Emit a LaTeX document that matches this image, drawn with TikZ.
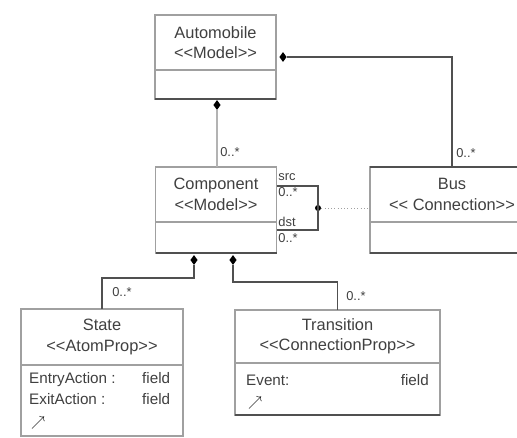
\documentclass[tikz,border=0pt]{standalone}
\usepackage{fontspec}
\setmainfont{Liberation Sans}[Ligatures=TeXOff]
\usetikzlibrary{positioning, shapes.geometric, calc}
\definecolor{colLine}{HTML}{A0A0A0}
\definecolor{colDark}{HTML}{505050}
\definecolor{colText}{HTML}{404040}
\newcommand{\stereo}[1]{<{}<#1>{}>}
\tikzset{
  % Class boxes (name compartment + attribute compartment)
  chead/.style={
    draw=colLine, line width=1.2pt, fill=white, outer sep=0pt,
    align=center, inner sep=0pt, text=colText,
    font=\fontsize{14}{17.5}\selectfont,
  },
  cbody/.style={draw=colLine, line width=1.2pt, fill=white, outer sep=0pt, inner sep=0pt},
  cfoot/.style={draw=colDark, line width=1.6pt},
  attr/.style={font=\fontsize{13}{17.5}\selectfont, text=colText, inner sep=0pt},
  icon/.style={font=\large, text=black, inner sep=0pt},
  % Multiplicities
  mult/.style={font=\fontsize{11}{12}\selectfont, text=colText, inner sep=1pt},
  % Composition ends
  comp/.style={diamond, fill=black, inner sep=0pt, minimum width=2.2mm, minimum height=3mm},
  jdot/.style={circle, fill=black, inner sep=0pt, minimum size=1.8mm},
  % Connectors
  assoc/.style={draw=colDark, line width=0.9pt},
  assocLt/.style={draw=colLine!80, line width=2.2pt},
}

\begin{document}
\begin{tikzpicture}[x=0.3mm, y=-0.3mm]
\useasboundingbox (0,0) rectangle (517,437);

%% top class
\node[chead, minimum width=36.3mm, minimum height=16.5mm] (autoHead) at (215.5,42.5)
  {Automobile\\\stereo{Model}};
\node[cbody, below=0pt of autoHead, minimum width=36.3mm, minimum height=8.7mm] (autoBody) {};
\draw[cfoot] (autoBody.south west) -- (autoBody.south east);

%% middle row
\node[chead, minimum width=36.3mm, minimum height=16.5mm] (compHead) at (216,194.5)
  {Component\\\stereo{Model}};
\node[cbody, below=0pt of compHead, minimum width=36.3mm, minimum height=9.3mm] (compBody) {};
\draw[cfoot] (compBody.south west) -- (compBody.south east);

\node[chead, minimum width=49.2mm, minimum height=16.5mm] (busHead) at (452,194.5)
  {Bus\\\stereo{ Connection}};
\node[cbody, below=0pt of busHead, minimum width=49.2mm, minimum height=9.3mm] (busBody) {};
\draw[cfoot] (busHead.north west) -- (busHead.north east);
\draw[cfoot] (busBody.south west) -- (busBody.south east);

%% bottom row
\node[chead, minimum width=48.6mm, minimum height=16.8mm] (stHead) at (102,337)
  {State\\\stereo{AtomProp}};
\node[cbody, below=0pt of stHead, minimum width=48.6mm, minimum height=21.3mm] (stBody) {};
\node[attr, anchor=north west] (stAttr) at (29,369)
  {\begin{tabular}{@{}l@{\hspace{8mm}}l@{}}EntryAction : & field\\ ExitAction : & field\end{tabular}};
\node[icon, anchor=west] (stIcon) at (31,423) {$\nearrow$};

\node[chead, minimum width=61.5mm, minimum height=15.9mm] (trHead) at (337.5,336.5)
  {Transition\\\stereo{ConnectionProp}};
\node[cbody, below=0pt of trHead, minimum width=61.5mm, minimum height=15.6mm] (trBody) {};
\node[attr, anchor=west] (trEvent) at (246,380) {Event:};
\node[attr, anchor=east] (trField) at (429,380) {field};
\node[icon, anchor=west] (trIcon) at (248,403) {$\nearrow$};
\draw[cfoot] (trBody.south west) -- (trBody.south east);

%% Automobile -- Component
\node[comp] (autoD) at (217,105) {};
\draw[assocLt] (autoD.south) -- (autoD.south |- compHead.north);
\node[mult] (mAuto) at (230,152) {0..*};

%% Automobile -- Bus
\node[comp, shape border rotate=90] (busD) at (283,57) {};
\draw[assoc] (busD.east) -| (busHead.north);
\node[mult] (mBus) at (466,153) {0..*};

%% self association with Bus as association class
\coordinate (loopNE) at (318,186);
\coordinate (loopSE) at (318,230);
\node[jdot] (loopDot) at (318,208) {};
\draw[assoc] (compHead.east |- loopNE) -- (loopNE) -- (loopSE) -- (compBody.east |- loopSE);
\draw[colLine, line width=0.8pt, dotted] (loopDot) -- (loopDot -| busHead.west);
\node[mult, anchor=west] (mSrc) at (277,177) {src};
\node[mult, anchor=west] (mSrcN) at (277,192) {0..*};
\node[mult, anchor=west] (mDst) at (277,222) {dst};
\node[mult, anchor=west] (mDstN) at (277,238) {0..*};

%% Component -- State / Transition
\node[comp] (stD) at (194,260) {};
\node[comp] (trD) at (233,260) {};
\coordinate (stKnee) at (102,278);
\coordinate (trKnee) at (337.5,282);
\draw[assoc] (stD.south) |- (stKnee) -- (stHead.north);
\draw[assoc] (trD.south) |- (trKnee) -- (trHead.north);
\node[mult] (mState) at (122,292) {0..*};
\node[mult] (mTrans) at (356,296) {0..*};

\end{tikzpicture}
\end{document}
